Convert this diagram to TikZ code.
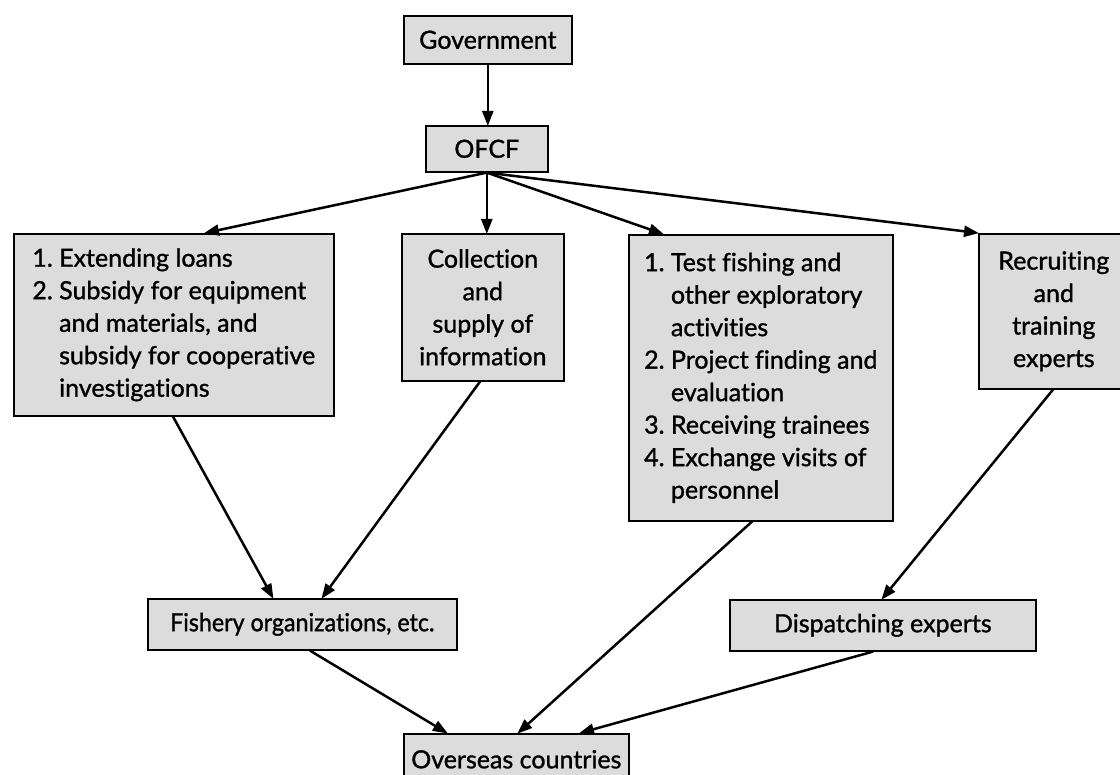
\documentclass[tikz,border=0pt]{standalone}
\usepackage{fontspec}
\newfontfamily\boxfont{Lato}[FakeBold=1.2, Ligatures=NoCommon]
\usetikzlibrary{arrows.meta,calc}
\definecolor{boxfill}{HTML}{DCDCDC}
\tikzset{
  box/.style={draw=black, line width=1.6pt, fill=boxfill, anchor=north west,
    inner sep=0pt, align=center, text=black,
    font=\boxfont\fontsize{25}{32.5}\selectfont},
  listbox/.style={box, align=left},
  conn/.style={line width=2.5pt, draw=black,
    -{Triangle[length=15pt,width=11pt]}, shorten >=-1pt}
}
\newcommand{\ind}{\phantom{2.~}}
\begin{document}
\begin{tikzpicture}[x=1pt,y=-1pt]
\clip (0,0) rectangle (1120,775);
\fill[white] (0,0) rectangle (1120,775);

\node[box, minimum width=168, minimum height=48] (gov) at (403,15) {Government};
\node[box, minimum width=122, minimum height=46] (ofcf) at (425,125) {OFCF};

\node[listbox, minimum width=320, minimum height=182] (loans) at (13,233)
  {1.~Extending loans\\2.~Subsidy for equipment\\\ind and materials, and\\\ind subsidy for cooperative\\\ind investigations};
\node[box, minimum width=162, minimum height=147] (info) at (401,233)
  {Collection\\and\\supply of\\information};
\node[listbox, minimum width=264, minimum height=286] (test) at (628,234)
  {1.~Test fishing and\\\ind other exploratory\\\ind activities\\2.~Project finding and\\\ind evaluation\\3.~Receiving trainees\\4.~Exchange visits of\\\ind personnel};
\node[box, minimum width=150, minimum height=155] (recruit) at (978,233)
  {Recruiting\\and\\training\\experts};

\node[box, minimum width=309, minimum height=51] (fish) at (147,598) {\scalebox{0.93}[1]{Fishery organizations, etc.}};
\node[box, minimum width=306, minimum height=51] (disp) at (729,599) {Dispatching experts};
\node[box, minimum width=225, minimum height=51] (over) at (403,733) {Overseas countries};

\draw[conn] (gov.south) -- (gov.south |- ofcf.north);
\draw[conn] (ofcf.south) -- ($(loans.north west)+(192,0)$);
\draw[conn] (ofcf.south) -- (ofcf.south |- info.north);
\draw[conn] (ofcf.south) -- ($(test.north west)+(35,0)$);
\draw[conn] (ofcf.south) -- (recruit.north west);

\draw[conn] ($(loans.south west)+(160,0)$) -- ($(fish.north west)+(126,0)$);
\draw[conn] ($(info.south west)+(79,0)$) -- ($(fish.north west)+(175,0)$);
\draw[conn] ($(test.south west)+(124,0)$) -- ($(over.north west)+(115,0)$);
\draw[conn] ($(recruit.south west)+(75,0)$) -- ($(disp.north west)+(153,0)$);
\draw[conn] ($(fish.south west)+(163,0)$) -- ($(over.north west)+(44,0)$);
\draw[conn] ($(disp.south west)+(144,0)$) -- ($(over.north west)+(177,0)$);
\end{tikzpicture}
\end{document}
